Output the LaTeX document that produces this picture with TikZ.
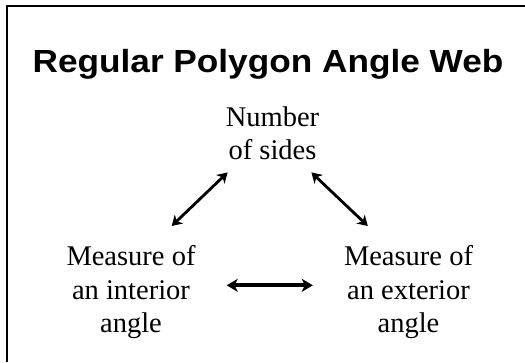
\documentclass[tikz,border=0pt]{standalone}
\usepackage{fontspec}
\setmainfont{Liberation Serif}
\newfontfamily\titlefont{Liberation Sans}
\usetikzlibrary{arrows.meta,calc}
\tikzset{
  label/.style={inner sep=0pt, align=center, anchor=north, font=\fontsize{28.5}{33.5}\selectfont},
  titletext/.style={inner sep=0pt, anchor=base, font=\titlefont\bfseries\fontsize{32}{38}\selectfont},
  arr/.style={line width=2.8pt, {Stealth[length=10pt,width=12pt,inset=3pt]}-{Stealth[length=10pt,width=12pt,inset=3pt]}},
  harr/.style={line width=3.8pt, {Stealth[length=11pt,width=13pt,inset=3pt]}-{Stealth[length=11pt,width=13pt,inset=3pt]}},
  frame/.style={line width=2pt}
}
\begin{document}
\begin{tikzpicture}[x=1pt,y=-1pt]
\useasboundingbox (0,0) rectangle (525,362);
\draw[frame] (7,362) -- (7,6) -- (525,6);
\node[titletext] (title) at (268,72.5) {\scalebox{1.10}[1]{Regular Polygon Angle Web}};
\node[label] (num) at (272.5,106.5) {Number\\of sides};
\node[label] (inter) at (131,245.5) {Measure of\\an interior\\angle};
\node[label] (ext) at (408.5,245.5) {Measure of\\an exterior\\angle};
\draw[arr] ($(inter.north east)+(-24,-19.5)$) -- ($(num.south west)+(2,12)$);
\draw[arr] ($(num.south east)+(-8,12)$) -- ($(ext.north west)+(24,-19.5)$);
\draw[harr] ($(inter.east)+(31,-7)$) -- ($(ext.west)+(-31,-7)$);
\end{tikzpicture}
\end{document}
